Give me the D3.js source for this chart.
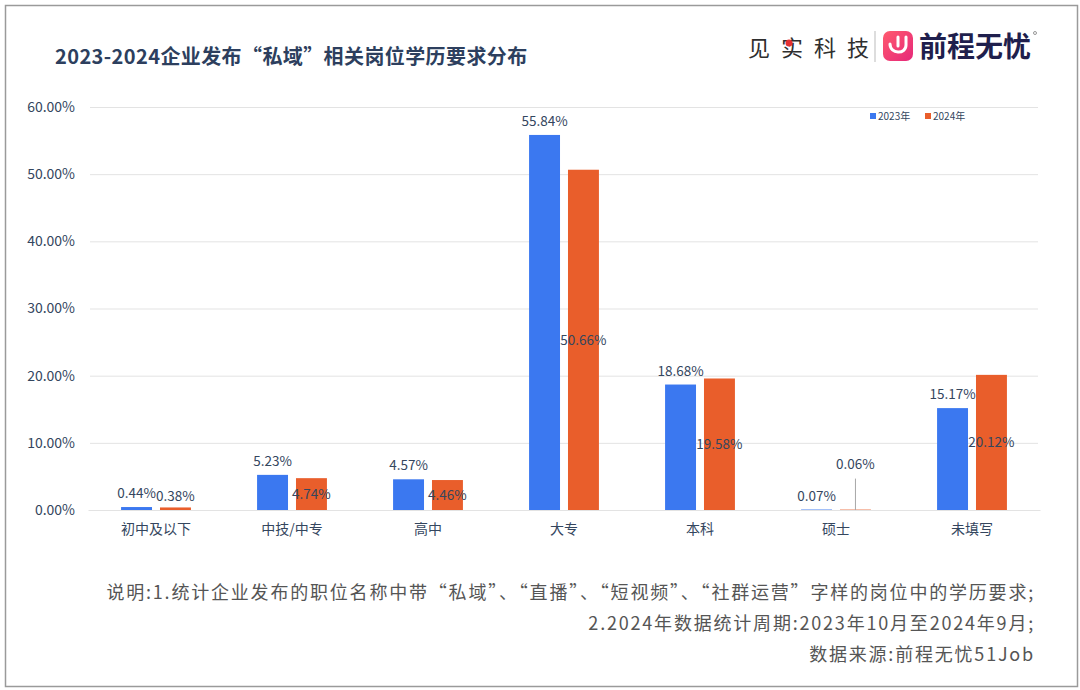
<!DOCTYPE html>
<html>
<head>
<meta charset="utf-8">
<script src="https://cdn.jsdelivr.net/npm/d3@7"></script>
<style>
  body{ margin:0; background:#fff; }
  svg text{ font-family:"Noto Sans CJK SC","Noto Sans",sans-serif; }
</style>
</head>
<body>
<div id="chart"></div>
<script>
// Categories and series values (percent).
var categories = [ '初中及以下', '中技/中专', '高中', '大专', '本科', '硕士', '未填写' ];
var series_names = [ '2023年', '2024年' ];
var values_2023 = [ 0.44, 5.23, 4.57, 55.84, 18.68, 0.07, 15.17 ];
var values_2024 = [ 0.38, 4.74, 4.46, 50.66, 19.58, 0.06, 20.12 ];
var y_ticks = [ 0, 10, 20, 30, 40, 50, 60 ];
var notes = [
  '说明:1.统计企业发布的职位名称中带“私域”、“直播”、“短视频”、“社群运营”字样的岗位中的学历要求;',
  '2.2024年数据统计周期:2023年10月至2024年9月;',
  '数据来源:前程无忧51Job'
];

var W = 1080, H = 690;
var margin = { left: 90, right: 40, top: 107, bottom: 180 };
var colors = [ '#3b78f0', '#e95e2b' ];
var text_color = '#34465e';
var num_font = '"Open Sans","Noto Sans",sans-serif';

var svg = d3.select( '#chart' ).append( 'svg' )
  .attr( 'width', W ).attr( 'height', H );

// Outer frame.
svg.append( 'rect' )
  .attr( 'x', 5.5 ).attr( 'y', 5.5 ).attr( 'width', W - 8 ).attr( 'height', H - 9 )
  .attr( 'fill', '#fff' ).attr( 'stroke', '#9a9a9a' ).attr( 'stroke-width', 1.5 );

// Title.
svg.append( 'text' )
  .attr( 'x', 55 ).attr( 'y', 64 )
  .attr( 'font-size', 20 ).attr( 'font-weight', 'bold' )
  .attr( 'letter-spacing', 0.4 )
  .attr( 'fill', '#2d3f5e' )
  .text( '2023-2024企业发布“私域”相关岗位学历要求分布' );

// Logos (approximate).
var logo = svg.append( 'g' );
logo.append( 'text' )
  .attr( 'x', 748 ).attr( 'y', 56 )
  .attr( 'font-size', 22 ).attr( 'letter-spacing', 11 )
  .attr( 'fill', '#2f2f2f' )
  .text( '见实科技' );
logo.append( 'circle' ).attr( 'cx', 789 ).attr( 'cy', 43 ).attr( 'r', 3.5 ).attr( 'fill', '#e53030' );
logo.append( 'line' )
  .attr( 'x1', 875 ).attr( 'x2', 875 ).attr( 'y1', 31 ).attr( 'y2', 62 )
  .attr( 'stroke', '#bbb' ).attr( 'stroke-width', 1 );
var grad = svg.append( 'defs' ).append( 'linearGradient' )
  .attr( 'id', 'lg' ).attr( 'x1', 0 ).attr( 'y1', 0 ).attr( 'x2', 1 ).attr( 'y2', 1 );
grad.append( 'stop' ).attr( 'offset', '0%' ).attr( 'stop-color', '#ff5a6e' );
grad.append( 'stop' ).attr( 'offset', '100%' ).attr( 'stop-color', '#e6287a' );
logo.append( 'rect' )
  .attr( 'x', 883 ).attr( 'y', 31 ).attr( 'width', 30 ).attr( 'height', 30 ).attr( 'rx', 7 )
  .attr( 'fill', 'url(#lg)' );
logo.append( 'path' )
  .attr( 'd', 'M890,44 C890,54 906,55 906,45 L906,37 M898,37 L898,46' )
  .attr( 'fill', 'none' ).attr( 'stroke', '#fff' ).attr( 'stroke-width', 3 ).attr( 'stroke-linecap', 'round' );
logo.append( 'text' )
  .attr( 'x', 919 ).attr( 'y', 57 )
  .attr( 'font-size', 28 ).attr( 'font-weight', 'bold' )
  .attr( 'fill', '#1f1f4d' )
  .text( '前程无忧' );
logo.append( 'circle' ).attr( 'cx', 1035 ).attr( 'cy', 33 ).attr( 'r', 1.5 ).attr( 'fill', 'none' ).attr( 'stroke', '#555' ).attr( 'stroke-width', 0.6 );

// Scales.
var plot_width = W - margin.left - margin.right;
var y0 = 510;
var y_scale = d3.scaleLinear().domain( [ 0, 60 ] ).range( [ y0, margin.top ] );
var x_scale = d3.scaleBand().domain( categories ).range( [ margin.left - 2, margin.left - 2 + 952 ] );
var x_sub = d3.scaleBand().domain( series_names ).range( [ 0, x_scale.bandwidth() ] ).paddingInner( 0.205 ).paddingOuter( 0.85 );

// Gridlines + y axis.
svg.append( 'g' )
  .attr( 'transform', 'translate(' + margin.left + ',0)' )
  .call( d3.axisLeft( y_scale ).tickValues( y_ticks ).tickSize( -plot_width + 2 ).tickPadding( 15 )
    .tickFormat( function( d ){ return d.toFixed( 2 ) + '%' } ) )
  .call( function( g ){
    g.select( '.domain' ).remove();
    g.selectAll( '.tick line' ).attr( 'stroke', '#e3e3e3' );
    g.selectAll( '.tick text' ).attr( 'fill', text_color ).attr( 'font-size', 14 )
      .attr( 'font-family', num_font );
  } );

// X axis labels.
svg.append( 'g' )
  .attr( 'transform', 'translate(0,' + y0 + ')' )
  .call( d3.axisBottom( x_scale ).tickSize( 0 ).tickPadding( 14 ) )
  .call( function( g ){
    g.select( '.domain' ).attr( 'stroke', '#e3e3e3' );
    g.selectAll( '.tick text' ).attr( 'fill', text_color ).attr( 'font-size', 14 );
  } );

// Bars.
var rows = categories.map( function( c, i ){
  return { cat: c, vals: [ values_2023[i], values_2024[i] ] };
} );
var groups = svg.append( 'g' ).selectAll( 'g' )
  .data( rows ).enter().append( 'g' )
  .attr( 'transform', function( d ){ return 'translate(' + x_scale( d.cat ) + ',0)' } );

var bars = groups.selectAll( 'g' )
  .data( function( d ){ return d.vals.map( function( v, k ){ return { key: series_names[k], k: k, value: v } } ) } )
  .enter().append( 'g' );

bars.append( 'rect' )
  .attr( 'x', function( d ){ return x_sub( d.key ) } )
  .attr( 'y', function( d ){ return y_scale( d.value ) } )
  .attr( 'width', x_sub.bandwidth() )
  .attr( 'height', function( d ){ return y0 - y_scale( d.value ) } )
  .attr( 'fill', function( d ){ return colors[ d.k ] } );

// Data labels: 2023 above bar, 2024 centred in bar, tiny ones lifted with a leader line.
bars.each( function( d ){
  var g = d3.select( this );
  var cx = x_sub( d.key ) + x_sub.bandwidth() / 2;
  var ty;
  if( d.k == 0 ){
    ty = y_scale( d.value ) - 9;
  } else if( d.value < 0.1 ){
    ty = y_scale( d.value ) - 41;
    g.append( 'line' )
      .attr( 'x1', cx ).attr( 'x2', cx ).attr( 'y1', ty + 10 ).attr( 'y2', y0 )
      .attr( 'stroke', '#a8a8a8' ).attr( 'stroke-width', 1 );
  } else {
    ty = Math.min( ( y_scale( d.value ) + y0 ) / 2 + 5, y0 - 9 );
  }
  g.append( 'text' )
    .attr( 'x', cx ).attr( 'y', ty )
    .attr( 'text-anchor', 'middle' )
    .attr( 'font-size', 13.5 )
    .attr( 'font-family', num_font )
    .attr( 'fill', text_color )
    .text( d.value.toFixed( 2 ) + '%' );
} );

// Legend.
var legend = svg.append( 'g' ).selectAll( 'g' )
  .data( series_names ).enter().append( 'g' )
  .attr( 'transform', function( d, i ){ return 'translate(' + ( 870 + i * 55 ) + ',116)' } );
legend.append( 'rect' ).attr( 'x', 0 ).attr( 'y', -3 ).attr( 'width', 6 ).attr( 'height', 6 )
  .attr( 'fill', function( d, i ){ return colors[i] } );
legend.append( 'text' ).attr( 'x', 8 ).attr( 'y', 4 )
  .attr( 'font-size', 10 ).attr( 'fill', text_color )
  .text( function( d ){ return d } );

// Notes.
svg.append( 'g' ).selectAll( 'text' )
  .data( notes ).enter().append( 'text' )
  .attr( 'x', 1035 )
  .attr( 'y', function( d, i ){ return 599 + i * 31 } )
  .attr( 'text-anchor', 'end' )
  .attr( 'font-size', 18 )
  .attr( 'letter-spacing', 1.8 )
  .attr( 'fill', '#555' )
  .text( function( d ){ return d } );
</script>
</body>
</html>
